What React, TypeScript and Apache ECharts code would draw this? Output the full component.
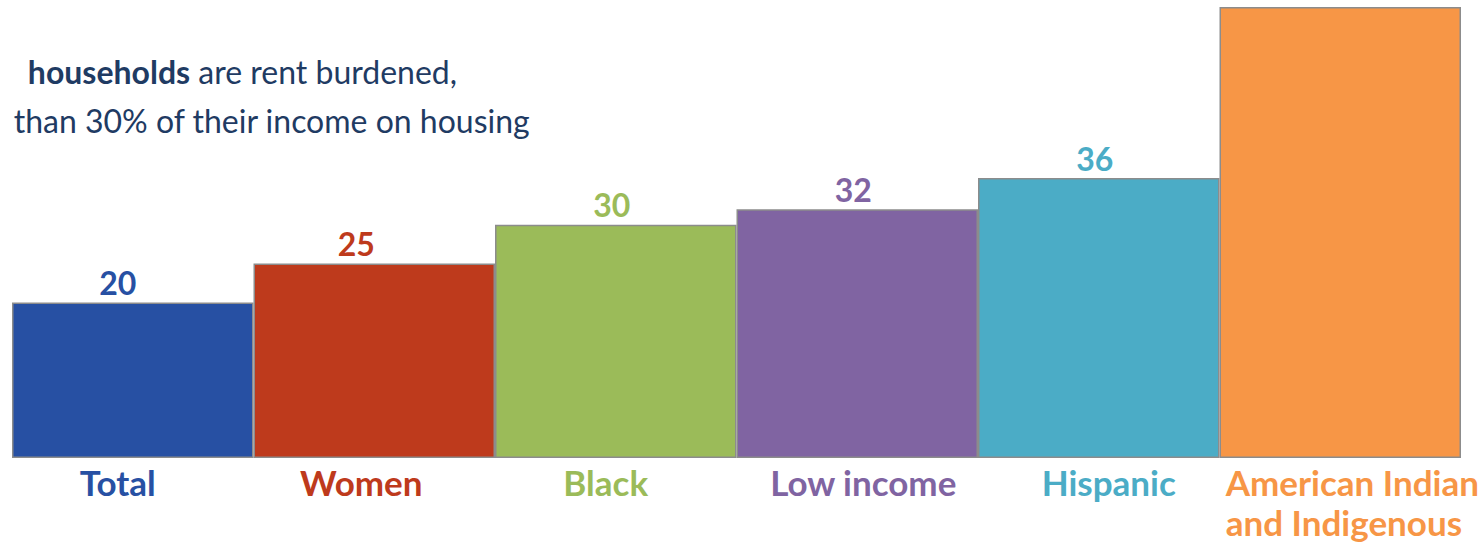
import React, { useEffect, useRef } from "react";
import * as echarts from "echarts";

const categories = ["Total", "Women", "Black", "Low income", "Hispanic", "American Indian\nand Indigenous"];
const values = [20, 25, 30, 32, 36, 58];
const barColors = ["#2750a3", "#be3a1c", "#9bbb59", "#8064a2", "#4bacc6", "#f79646"];
const showValueLabel = [true, true, true, true, true, false];
const titleLine1Bold = "households";
const titleLine1Rest = " are rent burdened,";
const titleLine2 = "than 30% of their income on housing";

const FONT = "Lato, 'Open Sans', sans-serif";

export default function App() {
  const ref = useRef<HTMLDivElement>(null);
  useEffect(() => {
    if (!ref.current) return;
    const chart = echarts.init(ref.current, undefined, { renderer: "svg" });
    const rich: Record<string, any> = {};
    const pads = [[0, 30, 0, 0], [0, 26, 0, 0], [0, 20, 0, 0], [0, 0, 0, 12], [0, 0, 0, 20], [0, 0, 0, 0]];
    const valueOffsets = [-15, -18, -4, -4, -4, 0];
    categories.forEach((_, i) => {
      rich["c" + i] = {
        color: barColors[i],
        fontFamily: FONT,
        fontWeight: "bold",
        fontSize: 35,
        lineHeight: 40,
        padding: pads[i],
        ...(i === 5 ? { width: 229, align: "left" } : {}),
      };
    });
    chart.setOption({
      animation: false,
      grid: { left: 12, right: 22, top: 7, bottom: 84, containLabel: false },
      xAxis: {
        type: "category",
        data: categories,
        axisLine: { show: false },
        axisTick: { show: false },
        axisLabel: {
          interval: 0,
          margin: 4,
          formatter: (v: string) => {
            const i = categories.indexOf(v);
            return v
              .split("\n")
              .map((l) => `{c${i}|${l}}`)
              .join("\n");
          },
          rich,
        },
      },
      yAxis: {
        type: "value",
        min: 0,
        max: 58,
        show: false,
        splitLine: { show: false },
      },
      series: [
        {
          type: "bar",
          barCategoryGap: 0,
          barWidth: "100%",
          data: values.map((v, i) => ({
            value: v,
            itemStyle: { color: barColors[i], borderColor: "#8c8c8c", borderWidth: 1.5 },
            label: {
              show: showValueLabel[i],
              position: "top",
              distance: 4,
              offset: [valueOffsets[i], 0],
              color: barColors[i],
              fontFamily: FONT,
              fontWeight: "bold",
              fontSize: 32,
            },
          })),
        },
      ],
      graphic: [
        {
          type: "text",
          right: 1483 - 457,
          top: 55,
          style: {
            text: `{b|${titleLine1Bold}}{r|${titleLine1Rest}}`,
            rich: {
              b: { fontFamily: FONT, fontWeight: "bold", fontSize: 32, fill: "#1f3b63" },
              r: { fontFamily: FONT, fontSize: 32, fill: "#1f3b63" },
            },
          },
        },
        {
          type: "text",
          right: 1483 - 531,
          top: 104,
          style: {
            text: titleLine2,
            fontFamily: FONT,
            fontSize: 32,
            fill: "#1f3b63",
          },
        },
      ],
    });
    return () => chart.dispose();
  }, []);
  return <div ref={ref} style={{ width: 1483, height: 542, position: "absolute", left: 0, top: 0 }} />;
}
